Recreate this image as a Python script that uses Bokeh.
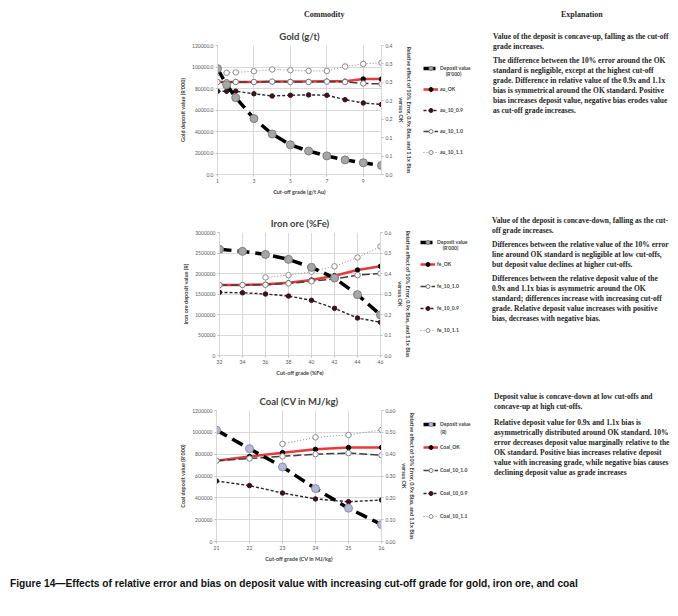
from bokeh.plotting import figure
from bokeh.models import (Range1d, LinearAxis, FixedTicker, NumeralTickFormatter,
                          Legend, LegendItem, Div, Spacer, Label)
from bokeh.layouts import column, row
from bokeh.embed import file_html
from bokeh.resources import INLINE

# ---------------- data ----------------
# Gold (g/t)
gold_x = [1, 1.5, 2, 3, 4, 5, 6, 7, 8, 9, 10]
gold_deposit = [98500, 83500, 71500, 52000, 37700, 27600, 21800, 17300, 13600, 10900, 8400]
gold_ok = [0.251, 0.251, 0.251, 0.251, 0.252, 0.252, 0.252, 0.253, 0.253, 0.259, 0.259]
gold_10_09 = [0.226, 0.226, 0.226, 0.219, 0.213, 0.215, 0.216, 0.215, 0.203, 0.194, 0.190]
gold_10_10 = [0.251, 0.250, 0.251, 0.251, 0.252, 0.251, 0.251, 0.252, 0.251, 0.247, 0.246]
gold_10_11 = [0.276, 0.276, 0.277, 0.280, 0.285, 0.283, 0.281, 0.281, 0.293, 0.300, 0.303]
gold_x11 = gold_x
gold_xticks = [1, 3, 5, 7, 9]
gold_lticks = [0, 20000, 40000, 60000, 80000, 100000, 120000]
gold_rticks = [0.0, 0.05, 0.1, 0.15, 0.2, 0.25, 0.3, 0.35]
gold_rlabels = ["0.0", "0.1", "0.1", "0.2", "0.2", "0.3", "0.3", "0.4"]

# Iron ore (%Fe)
iron_x = [32, 34, 36, 38, 40, 42, 44, 46]
iron_deposit = [2590000, 2540000, 2465000, 2345000, 2150000, 1890000, 1484000, 990000]
iron_ok = [0.344, 0.344, 0.347, 0.355, 0.368, 0.389, 0.417, 0.435]
iron_10_10 = [0.344, 0.344, 0.345, 0.352, 0.362, 0.373, 0.392, 0.400]
iron_10_09 = [0.308, 0.306, 0.300, 0.290, 0.269, 0.230, 0.183, 0.162]
iron_x11 = [36, 38, 40, 42, 44, 46]
iron_10_11 = [0.381, 0.392, 0.409, 0.435, 0.478, 0.532]
iron_xticks = [32, 34, 36, 38, 40, 42, 44, 46]
iron_lticks = [0, 500000, 1000000, 1500000, 2000000, 2500000, 3000000]
iron_rticks = [0.0, 0.1, 0.2, 0.3, 0.4, 0.5, 0.6]
iron_rlabels = ["0.0", "0.1", "0.2", "0.3", "0.4", "0.5", "0.6"]

# Coal (CV in MJ/kg)
coal_x = [21, 22, 23, 24, 25, 26]
coal_deposit = [1020000, 850000, 683000, 485000, 305000, 155000]
coal_ok = [0.370, 0.389, 0.407, 0.422, 0.430, 0.431]
coal_10_10 = [0.370, 0.380, 0.390, 0.400, 0.405, 0.395]
coal_10_09 = [0.277, 0.256, 0.222, 0.195, 0.182, 0.190]
coal_x11 = [23, 24, 25, 26]
coal_10_11 = [0.447, 0.477, 0.488, 0.511]
coal_xticks = [21, 22, 23, 24, 25, 26]
coal_lticks = [0, 200000, 400000, 600000, 800000, 1000000, 1200000]
coal_rticks = [0.0, 0.1, 0.2, 0.3, 0.4, 0.5, 0.6]
coal_rlabels = ["0.00", "0.10", "0.20", "0.30", "0.40", "0.50", "0.60"]

RIGHT_LABEL = "Relative effect of 10% Error, 0.9x Bias, and 1.1x Bias\nversus OK"
FONT = "Lato"
LEFT_PAD = 170
LEG_W = 73
TEXT_W = 182
NAN = float("nan")


def add_series(p, key, x, y, dep_fill, dep_line, rng="default"):
    if key == "ok":
        return (p.line(x, y, y_range_name=rng, line_color="#e8393b", line_width=2.5),
                p.scatter(x, y, y_range_name=rng, size=4.5, fill_color="black", line_color="black"))
    if key == "e10":
        return (p.line(x, y, y_range_name=rng, line_color="#404040", line_width=1.5, line_dash="8 3"),
                p.scatter(x, y, y_range_name=rng, size=5.5, fill_color="white", line_color="#7f7f7f"))
    if key == "e09":
        return (p.line(x, y, y_range_name=rng, line_color="#262626", line_width=1.4, line_dash="3 2"),
                p.scatter(x, y, y_range_name=rng, size=4.5, fill_color="#3d1020", line_color="#3d1020"))
    if key == "e11":
        return (p.line(x, y, y_range_name=rng, line_color="#8c8c8c", line_width=1.0, line_dash="1 2"),
                p.scatter(x, y, y_range_name=rng, size=5.5, fill_color="white", line_color="#8c8c8c"))
    return (p.line(x, y, y_range_name=rng, line_color="black", line_width=3.5, line_dash="12 6"),
            p.scatter(x, y, y_range_name=rng, size=8, fill_color=dep_fill, line_color=dep_line))


def make_chart(title, x, dep, ok, e10, e09, x11, e11, xticks, lticks, lfmt,
               rticks, rlabels, ylabel, xlabel, frame_h, frame_w, mb_left, mb_right,
               dep_fill, dep_line):
    p = figure(frame_width=frame_w, frame_height=frame_h, output_backend="svg",
               toolbar_location=None,
               x_range=Range1d(xticks[0], max(x[-1], xticks[-1])),
               y_range=Range1d(lticks[0], lticks[-1]),
               min_border_left=mb_left, min_border_right=mb_right,
               min_border_top=25, min_border_bottom=24, title=title)
    p.outline_line_color = None
    p.title.align = "center"
    p.title.text_font = FONT
    p.title.text_font_size = "9.5px"
    p.title.text_font_style = "bold"
    p.title.text_color = "#404040"
    p.title.standoff = 8

    p.extra_y_ranges = {"rel": Range1d(rticks[0], rticks[-1])}

    p.xaxis.ticker = FixedTicker(ticks=xticks)
    p.xgrid.ticker = FixedTicker(ticks=xticks)
    p.yaxis.ticker = FixedTicker(ticks=lticks)
    p.ygrid.ticker = FixedTicker(ticks=lticks)
    p.yaxis.formatter = NumeralTickFormatter(format=lfmt)
    p.xgrid.grid_line_color = "#d9d9d9"
    p.ygrid.grid_line_color = "#d9d9d9"
    p.xaxis.axis_label = xlabel
    p.yaxis.axis_label = ylabel

    raxis = LinearAxis(y_range_name="rel", ticker=FixedTicker(ticks=rticks),
                       major_label_overrides=dict(zip(rticks, rlabels)),
                       axis_label=RIGHT_LABEL)
    p.add_layout(raxis, "right")

    for ax in [p.xaxis[0], p.yaxis[0], raxis]:
        ax.axis_line_color = "#d9d9d9"
        ax.major_tick_line_color = "#bfbfbf"
        ax.major_tick_out = 2
        ax.major_tick_in = 0
        ax.minor_tick_line_color = None
        ax.major_label_text_font = FONT
        ax.major_label_text_font_size = "5px"
        ax.major_label_text_color = "#595959"
        ax.major_label_standoff = 2
        ax.axis_label_text_font = FONT
        ax.axis_label_text_font_size = "5.5px"
        ax.axis_label_text_font_style = "bold"
        ax.axis_label_text_color = "#404040"
        ax.axis_label_standoff = 3

    add_series(p, "ok", x, ok, dep_fill, dep_line, "rel")
    add_series(p, "e10", x, e10, dep_fill, dep_line, "rel")
    add_series(p, "e09", x, e09, dep_fill, dep_line, "rel")
    add_series(p, "e11", x11, e11, dep_fill, dep_line, "rel")
    add_series(p, "dep", x, dep, dep_fill, dep_line)
    return p


def legend_fig(height, names, unit, unit_pos, order, loc, spacing, dep_fill, dep_line):
    lf = figure(width=LEG_W, height=height, output_backend="svg", toolbar_location=None,
                x_axis_type=None, y_axis_type=None, min_border=0,
                x_range=Range1d(0, 1), y_range=Range1d(0, 1))
    lf.outline_line_color = None
    items = []
    for k in order:
        rs = add_series(lf, k, [NAN], [NAN], dep_fill, dep_line)
        items.append(LegendItem(label=names[k], renderers=list(rs)))
    legend = Legend(items=items, location=loc, label_text_font=FONT,
                    label_text_font_size="5px", label_text_font_style="bold",
                    label_text_color="#404040",
                    glyph_width=15, glyph_height=10, label_height=10, spacing=spacing,
                    padding=0, margin=0, border_line_color=None,
                    background_fill_alpha=0, label_standoff=2)
    lf.add_layout(legend, "center")
    lf.add_layout(Label(x=unit_pos[0], y=unit_pos[1], x_units="screen", y_units="screen",
                        text=unit, text_font=FONT, text_font_size="5px", text_font_style="bold",
                        text_color="#404040", text_align="center", text_baseline="middle"))
    return lf


gold = make_chart("Gold (g/t)", gold_x, gold_deposit, gold_ok, gold_10_10, gold_10_09,
                  gold_x11, gold_10_11, gold_xticks, gold_lticks, "0.0", gold_rticks, gold_rlabels,
                  "Gold deposit value (R'000)", "Cut-off grade (g/t Au)",
                  129, 164, 47, 36, "#a6a6a6", "#7f7f7f")
gold_leg = legend_fig(178, {"dep": "Deposit value", "ok": "au_OK", "e09": "au_10_0.9",
                            "e10": "au_10_1.0", "e11": "au_10_1.1"}, "(R'000)", (36, 101),
                      ["dep", "ok", "e09", "e10", "e11"], (6, 17), 11, "#a6a6a6", "#7f7f7f")

iron = make_chart("Iron ore (%Fe)", iron_x, iron_deposit, iron_ok, iron_10_10, iron_10_09,
                  iron_x11, iron_10_11, iron_xticks, iron_lticks, "0", iron_rticks, iron_rlabels,
                  "Iron ore deposit value (R)", "Cut-off grade (%Fe)",
                  123, 161, 49, 37, "#a6a6a6", "#7f7f7f")
iron_leg = legend_fig(172, {"dep": "Deposit value", "ok": "fe_OK", "e10": "fe_10_1.0",
                            "e09": "fe_10_0.9", "e11": "fe_10_1.1"}, "(R'000)", (33, 108),
                      ["dep", "ok", "e10", "e09", "e11"], (3, 20), 12, "#a6a6a6", "#7f7f7f")

coal = make_chart("Coal (CV in MJ/kg)", coal_x, coal_deposit, coal_ok, coal_10_10, coal_10_09,
                  coal_x11, coal_10_11, coal_xticks, coal_lticks, "0", coal_rticks, coal_rlabels,
                  "Coal deposit value (R'000)", "Cut-off grade (CV in MJ/kg)",
                  131, 165, 46, 36, "#b4b8d4", "#8c90b0")
coal_leg = legend_fig(180, {"dep": "Deposit value", "ok": "Coal_OK", "e10": "Coal_10_1.0",
                            "e09": "Coal_10_0.9", "e11": "Coal_10_1.1"}, "(R)", (26, 110),
                      ["dep", "ok", "e10", "e09", "e11"], (6, 20), 13, "#b4b8d4", "#8c90b0")

gold_text = [
    ["Value of the deposit is concave-up, falling as the cut-off", "grade increases."],
    ["The difference between the 10% error around the OK", "standard is negligible, except at the highest cut-off",
     "grade. Difference in relative value of the 0.9x and 1.1x", "bias is symmetrical around the OK standard. Positive",
     "bias increases deposit value, negative bias erodes value", "as cut-off grade increases."],
]
iron_text = [
    ["Value of the deposit is concave-down, falling as the cut-", "off grade increases."],
    ["Differences between the relative value of the 10% error", "line around OK standard is negligible at low cut-offs,",
     "but deposit value declines at higher cut-offs."],
    ["Differences between the relative deposit value of the", "0.9x and 1.1x bias is asymmetric around the OK",
     "standard; differences increase with increasing cut-off", "grade. Relative deposit value increases with positive",
     "bias, decreases with negative bias."],
]
coal_text = [
    ["Deposit value is concave-down at low cut-offs and", "concave-up at high cut-offs."],
    ["Relative deposit value for 0.9x and 1.1x bias is", "asymmetrically distributed around OK standard. 10%",
     "error decreases deposit value marginally relative to the", "OK standard. Positive bias increases relative deposit",
     "value with increasing grade, while negative bias causes", "declining deposit value as grade increases"],
]
caption = ("Figure 14\u2014Effects of relative error and bias on deposit value with increasing "
           "cut-off grade for gold, iron ore, and coal")


def text_div(paras, top, left, height, gap):
    html = "".join(
        f"<div style='margin:0 0 {gap}px 0'>" + "<br>".join(lines) + "</div>" for lines in paras)
    inner = (f"<div style=\"padding-top:{top}px;padding-left:{left}px;font-family:'Liberation Serif';"
             f"font-size:7.5px;line-height:10px;color:#1f1f1f;white-space:nowrap;font-weight:bold\">{html}</div>")
    return Div(text=inner, width=TEXT_W, height=height, margin=(0, 0, 0, 0))


header = Div(text=("<div style=\"position:relative;height:12px;font-family:'Liberation Serif';"
                   "font-size:8px;font-weight:bold;color:#1f1f1f\">"
                   "<span style='position:absolute;left:304px;top:1px'>Commodity</span>"
                   "<span style='position:absolute;left:561px;top:1px'>Explanation</span></div>"),
             width=670, height=12, margin=(0, 0, 0, 0))

cap = Div(text=("<div style=\"padding-top:12px;padding-left:10px;font-family:'Liberation Sans';"
                f"font-size:10.2px;font-weight:bold;color:#111;white-space:nowrap\">{caption}</div>"),
          width=670, height=25, margin=(0, 0, 0, 0))

layout = column(
    Spacer(width=10, height=8),
    header,
    row(Spacer(width=LEFT_PAD, height=10), gold, gold_leg, text_div(gold_text, 12, 3, 178, 4), spacing=0),
    Spacer(width=10, height=9),
    row(Spacer(width=LEFT_PAD, height=10), iron, iron_leg, text_div(iron_text, 9, 2, 172, 4), spacing=0),
    Spacer(width=10, height=6),
    row(Spacer(width=LEFT_PAD, height=10), coal, coal_leg, text_div(coal_text, 7, 4, 180, 6), spacing=0),
    cap,
    spacing=0,
)

open("out.html", "w").write(file_html(layout, INLINE))
